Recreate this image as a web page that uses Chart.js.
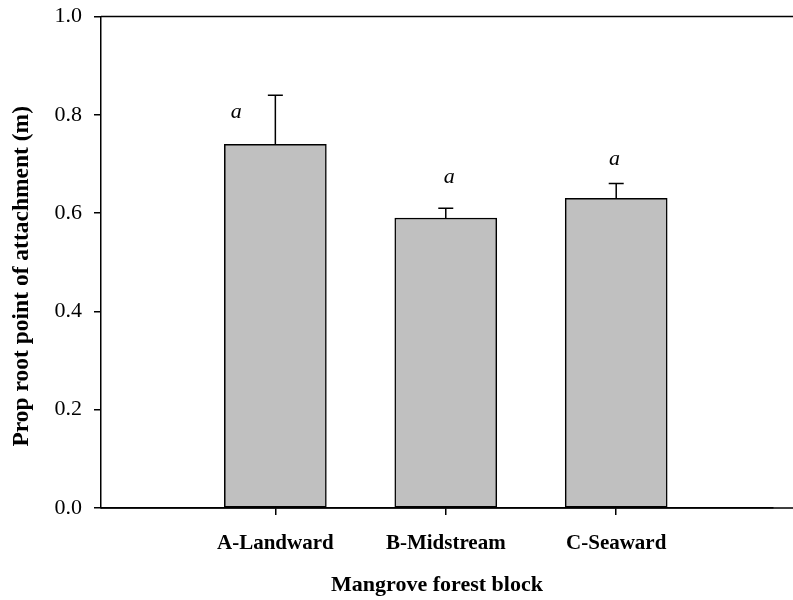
<!DOCTYPE html>
<html>
<head>
<meta charset="utf-8">
<title>Prop root point of attachment by mangrove forest block</title>
<script src="https://cdn.jsdelivr.net/npm/chart.js@4.4.1/dist/chart.umd.min.js"></script>
<style>
  html, body { margin: 0; padding: 0; background: #ffffff; }
  #wrap { width: 793px; height: 600px; }
</style>
</head>
<body>
<div id="wrap"><canvas id="chart" width="793" height="600"></canvas></div>
<script>
// Forest blocks along the x axis
const blocks = ['A-Landward', 'B-Midstream', 'C-Seaward'];
// Mean prop root point of attachment (m)
const means = [0.74, 0.59, 0.63];
// Upper error (standard error) for each block
const errors = [0.10, 0.02, 0.03];
// Significance letters above each block
const letters = ['a', 'a', 'a'];
// Letter anchor points (block position, value) for the significance letters
const letterX = [0.77, 2.02, 2.99];
const letterY = [0.806, 0.674, 0.71];
// Y axis tick values
const yTicks = [0.0, 0.2, 0.4, 0.6, 0.8, 1.0];
const yTitle = 'Prop root point of attachment (m)';

const SERIF = '"Liberation Serif", "Times New Roman", Times, serif';
const INK = '#000000';

// Error whiskers (upper only), significance letters, y title and the open frame lines
const decorations = {
  id: 'decorations',
  afterDatasetsDraw(chart) {
    const ctx = chart.ctx;
    const xs = chart.scales.x, ys = chart.scales.y;
    const area = chart.chartArea;
    const meta = chart.getDatasetMeta(0);
    ctx.save();
    ctx.strokeStyle = INK;
    ctx.lineWidth = 1.5;
    meta.data.forEach((bar, i) => {
      const x = bar.x;
      const yTop = ys.getPixelForValue(means[i]);
      const yErr = ys.getPixelForValue(means[i] + errors[i]);
      ctx.beginPath();
      ctx.moveTo(x, yTop);
      ctx.lineTo(x, yErr);
      ctx.moveTo(x - 7.5, yErr);
      ctx.lineTo(x + 7.5, yErr);
      ctx.stroke();
    });
    ctx.fillStyle = INK;
    ctx.font = 'italic 22px ' + SERIF;
    ctx.textAlign = 'center';
    ctx.textBaseline = 'middle';
    letters.forEach((t, i) => {
      ctx.fillText(t, xs.getPixelForValue(letterX[i]), ys.getPixelForValue(letterY[i]));
    });
    // top frame line and x axis line run on to the right edge of the canvas
    ctx.beginPath();
    ctx.moveTo(area.left, ys.getPixelForValue(1.0));
    ctx.lineTo(chart.width, ys.getPixelForValue(1.0));
    ctx.moveTo(area.left, ys.getPixelForValue(0));
    ctx.lineTo(chart.width, ys.getPixelForValue(0));
    ctx.stroke();
    // rotated y axis title, set a little below the middle of the axis
    ctx.translate(22, (area.top + area.bottom) / 2 + 14);
    ctx.rotate(-Math.PI / 2);
    ctx.font = 'bold 23.5px ' + SERIF;
    ctx.fillText(yTitle, 0, 0);
    ctx.restore();
  }
};

new Chart(document.getElementById('chart'), {
  type: 'bar',
  data: {
    datasets: [{
      data: means.map((v, i) => ({ x: i + 1, y: v })),
      backgroundColor: '#c0c0c0',
      borderColor: INK,
      borderWidth: 1.5,
      borderSkipped: false,
      barThickness: 102
    }]
  },
  options: {
    responsive: false,
    animation: false,
    devicePixelRatio: 1,
    layout: { padding: { top: 16.5, right: 20, bottom: 0, left: 0 } },
    plugins: { legend: { display: false }, tooltip: { enabled: false } },
    scales: {
      x: {
        type: 'linear',
        offset: false,
        min: -0.023,
        max: 3.92,
        afterBuildTicks(scale) {
          scale.ticks = blocks.map((_, i) => ({ value: i + 1 }));
        },
        afterFit(scale) { scale.height = 92; },
        grid: { display: true, offset: false, drawOnChartArea: false, drawTicks: true, tickLength: 7, color: INK, lineWidth: 1.5 },
        border: { display: true, color: INK, width: 1.5 },
        ticks: {
          autoSkip: false,
          maxRotation: 0,
          padding: 16,
          color: INK,
          font: { family: SERIF, size: 21, weight: 'bold' },
          callback: (v) => blocks[Math.round(v) - 1] || ''
        },
        title: {
          display: true,
          text: 'Mangrove forest block',
          color: INK,
          font: { family: SERIF, size: 22, weight: 'bold' },
          padding: { top: 0, bottom: 1 }
        }
      },
      y: {
        type: 'linear',
        min: 0,
        max: 1.0,
        afterBuildTicks(scale) {
          scale.ticks = yTicks.map(v => ({ value: v }));
        },
        afterFit(scale) {
          scale.width = 101;
          scale.paddingTop = 0;
          scale.paddingBottom = 0;
        },
        grid: { display: true, drawOnChartArea: false, drawTicks: true, tickLength: 7, color: INK, lineWidth: 1.5 },
        border: { display: true, color: INK, width: 1.5 },
        ticks: {
          padding: 12,
          color: INK,
          font: { family: SERIF, size: 22 },
          callback: (v) => Number(v).toFixed(1)
        },
        title: { display: false }
      }
    }
  },
  plugins: [decorations]
});
</script>
</body>
</html>
